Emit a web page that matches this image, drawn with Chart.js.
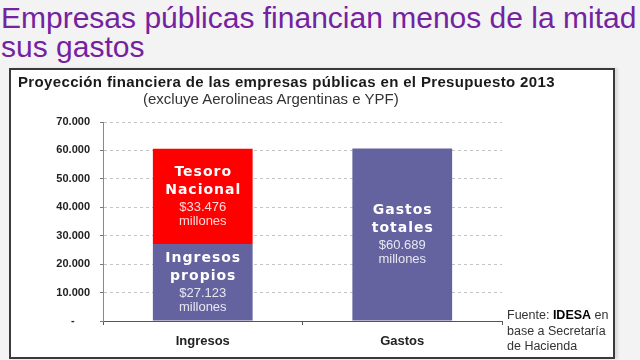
<!DOCTYPE html>
<html>
<head>
<meta charset="utf-8">
<script src="https://cdn.jsdelivr.net/npm/chart.js@4/dist/chart.umd.min.js"></script>
<style>
  html, body { margin: 0; padding: 0; }
  body { width: 640px; height: 360px; background: #f3f3f3; position: relative; overflow: hidden; font-family: "Liberation Sans", Arial, sans-serif; }
  #mainTitle { position: absolute; left: 1px; top: 3px; font-size: 30px; line-height: 29px; color: #7522a0; white-space: nowrap; }
  #box { position: absolute; left: 9px; top: 68px; width: 606px; height: 291px; box-sizing: border-box; border: 2px solid #3a3a3a; background: #fff; box-shadow: 3px 0 2px #dcdcdc; }
  #chartTitle { position: absolute; left: 18px; top: 73px; font-size: 15px; font-weight: bold; line-height: 18px; color: #1a1a1a; letter-spacing: 0.35px; white-space: nowrap; }
  #chartSub { position: absolute; left: 143px; top: 90px; font-size: 15px; line-height: 18px; color: #333; white-space: nowrap; }
  #wrap { position: absolute; left: 11px; top: 70px; width: 602px; height: 287px; }
  #note { position: absolute; left: 507px; top: 308px; font-size: 12.5px; line-height: 15.5px; color: #333; white-space: nowrap; }
</style>
</head>
<body>
<div id="mainTitle">Empresas públicas financian menos de la mitad<br>sus gastos</div>
<div id="box"></div>
<div id="wrap"><canvas id="c" width="602" height="287"></canvas></div>
<div id="chartTitle">Proyección financiera de las empresas públicas en el Presupuesto 2013</div>
<div id="chartSub">(excluye Aerolineas Argentinas e YPF)</div>
<div id="note">Fuente: <b style="color:#000">IDESA</b> en<br>base a Secretaría<br>de Hacienda</div>
<script>
// ---- data ----
const categories = ['Ingresos', 'Gastos'];
const ingresosPropios = [27123, null];
const tesoroNacional = [33476, null];
const gastosTotales = [null, 60689];
const seriesNames = ['Ingresos propios', 'Tesoro Nacional', 'Gastos totales'];
const barLabelTitles = [['Ingresos', 'propios'], ['Tesoro', 'Nacional'], ['Gastos', 'totales']];
const barLabelAmounts = ['$27.123', '$33.476', '$60.689'];
const barLabelUnit = 'millones';
const yMin = 0, yMax = 70000, yStep = 10000;

const BLUE = '#64629f';
const RED = '#fe0000';

const barLabels = {
  id: 'barLabels',
  afterDatasetsDraw(chart) {
    const ctx = chart.ctx;
    chart.data.datasets.forEach((ds, di) => {
      const meta = chart.getDatasetMeta(di);
      meta.data.forEach((bar, i) => {
        if (ds.data[i] == null) return;
        const cx = bar.x;
        const cy = (bar.y + bar.base) / 2;
        ctx.save();
        ctx.textAlign = 'center';
        ctx.textBaseline = 'middle';
        ctx.fillStyle = '#ffffff';
        ctx.font = 'bold 14px "DejaVu Sans"';
        if ('letterSpacing' in ctx) ctx.letterSpacing = '1px';
        const t = barLabelTitles[di];
        ctx.fillText(t[0], cx + 0.5, cy - 24);
        ctx.fillText(t[1], cx + 0.5, cy - 6);
        if ('letterSpacing' in ctx) ctx.letterSpacing = '0px';
        ctx.font = '13px "Liberation Sans"';
        ctx.fillStyle = 'rgba(255,255,255,0.85)';
        ctx.fillText(barLabelAmounts[di], cx, cy + 11);
        ctx.fillText(barLabelUnit, cx, cy + 25);
        ctx.restore();
      });
    });
  }
};

new Chart(document.getElementById('c'), {
  type: 'bar',
  data: {
    labels: categories,
    datasets: [
      { label: seriesNames[0], data: ingresosPropios, backgroundColor: BLUE },
      { label: seriesNames[1], data: tesoroNacional, backgroundColor: RED },
      { label: seriesNames[2], data: gastosTotales, backgroundColor: BLUE }
    ]
  },
  options: {
    responsive: false,
    animation: false,
    devicePixelRatio: 1,
    barPercentage: 0.5,
    categoryPercentage: 1.0,
    layout: { padding: { left: 0, right: 111, top: 52, bottom: 0 } },
    plugins: { legend: { display: false }, title: { display: false }, tooltip: { enabled: false } },
    scales: {
      x: {
        stacked: true,
        afterFit(s) { s.height = 36; },
        grid: { display: true, drawOnChartArea: false, drawTicks: true, tickLength: 4, tickColor: '#555', color: '#555', offset: true },
        border: { display: true, color: '#555', width: 1 },
        ticks: { color: '#222', font: { family: '"Liberation Sans"', size: 13, weight: 'bold' }, padding: 9 }
      },
      y: {
        stacked: true,
        min: yMin, max: yMax,
        afterFit(s) { s.width = 92; },
        grid: { color: '#c4c4c4', drawTicks: true, tickLength: 3, tickColor: '#777', tickBorderDash: [] },
        border: { display: true, color: '#888', width: 1, dash: [3, 3] },
        ticks: {
          stepSize: yStep,
          color: '#222',
          padding: 10,
          font: { family: '"Liberation Sans"', size: 11, weight: 'bold' },
          callback(v) {
            if (v === 0) return '-     ';
            return v.toLocaleString('de-DE');
          }
        }
      }
    }
  },
  plugins: [barLabels]
});
</script>
</body>
</html>
